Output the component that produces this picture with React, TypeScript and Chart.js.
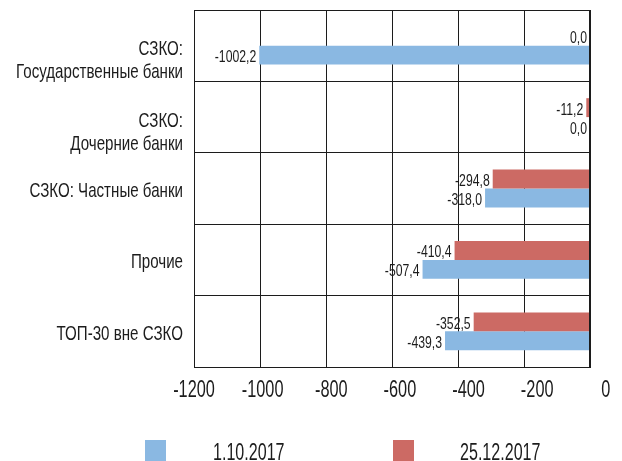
import React, { useEffect, useRef } from "react";
import { Chart, registerables } from "chart.js";

Chart.register(...registerables);

const categories: string[][] = [
  ["СЗКО:", "Государственные банки"],
  ["СЗКО:", "Дочерние банки"],
  ["СЗКО: Частные банки"],
  ["Прочие"],
  ["ТОП-30 вне СЗКО"],
];
const seriesDec = [0.0, -11.2, -294.8, -410.4, -352.5];
const seriesOct = [-1002.2, 0.0, -318.0, -507.4, -439.3];
const xTicks = [-1200, -1000, -800, -600, -400, -200, 0];
const labelDec = "25.12.2017";
const labelOct = "1.10.2017";
const colorDec = "#CC6A64";
const colorOct = "#8AB8E2";

const FONT = "'Liberation Sans', Arial, sans-serif";
const INK = "#1c1c1c";

const fmt = (v: number) => v.toFixed(1).replace(".", ",");

function narrowText(ctx: CanvasRenderingContext2D, text: string, x: number, y: number, size: number, sx: number, align: CanvasTextAlign) {
  ctx.save();
  ctx.font = `${size}px ${FONT}`;
  ctx.fillStyle = INK;
  ctx.textAlign = align;
  ctx.textBaseline = "alphabetic";
  ctx.translate(x, y);
  ctx.scale(sx, 1);
  ctx.fillText(text, 0, 0);
  ctx.restore();
}

const textPlugin = {
  id: "narrowTexts",
  afterDraw(chart: any) {
    const ctx: CanvasRenderingContext2D = chart.ctx;
    const xs = chart.scales.x;
    const ys = chart.scales.y;
    const a = chart.chartArea;
    // frame
    ctx.save();
    ctx.strokeStyle = INK;
    ctx.lineWidth = 1;
    ctx.strokeRect(Math.round(a.left) + 0.5, Math.round(a.top) + 0.5, Math.round(a.right - a.left) - 1, Math.round(a.bottom - a.top));
    ctx.restore();
    // category labels
    categories.forEach((lines, i) => {
      const cy = ys.getPixelForValue(i);
      lines.forEach((line, li) => {
        const base = cy + (lines.length > 1 ? 9.5 : 8.5) + li * 23;
        narrowText(ctx, line, a.left - 11, base, 21, 0.72, "right");
      });
    });
    // x tick labels (label row is slightly wider than the plot, as in the original)
    const x0 = xs.getPixelForValue(xTicks[0]);
    xTicks.forEach((t) => {
      const px = xs.getPixelForValue(t);
      narrowText(ctx, String(t), px + (px - x0) * 0.04, 397, 24, 0.68, "center");
    });
    // data labels
    chart.data.datasets.forEach((ds: any, di: number) => {
      const meta = chart.getDatasetMeta(di);
      meta.data.forEach((el: any, i: number) => {
        narrowText(ctx, fmt(ds.data[i]), el.x - 3, el.y + 7, 17, 0.72, "right");
      });
    });
    // legend
    const items = [
      { label: labelOct, color: colorOct, box: 145, text: 213 },
      { label: labelDec, color: colorDec, box: 393, text: 460 },
    ];
    items.forEach((it) => {
      ctx.fillStyle = it.color;
      ctx.fillRect(it.box, 440, 21, 21);
      narrowText(ctx, it.label, it.text, 460, 24, 0.67, "left");
    });
  },
};

export default function App() {
  const ref = useRef<HTMLCanvasElement>(null);
  useEffect(() => {
    if (!ref.current) return;
    const chart = new Chart(ref.current, {
      type: "bar",
      data: {
        labels: categories.map((c) => c.join(" ")),
        datasets: [
          { label: labelDec, data: seriesDec, backgroundColor: colorDec, categoryPercentage: 0.53, barPercentage: 1 },
          { label: labelOct, data: seriesOct, backgroundColor: colorOct, categoryPercentage: 0.53, barPercentage: 1 },
        ],
      },
      options: {
        indexAxis: "y",
        animation: false,
        responsive: false,
        maintainAspectRatio: false,
        layout: { padding: { top: 10, right: 32, left: 0, bottom: 0 } },
        plugins: { legend: { display: false }, tooltip: { enabled: false } },
        scales: {
          x: {
            min: -1200,
            max: 0,
            ticks: { stepSize: 200, display: false },
            grid: { color: INK, lineWidth: 1, drawTicks: false },
            border: { color: INK, width: 1 },
            afterFit: (s: any) => { s.height = 94; },
          },
          y: {
            ticks: { display: false },
            grid: { color: INK, lineWidth: 1, drawTicks: false, offset: true },
            border: { color: INK, width: 1 },
            afterFit: (s: any) => { s.width = 194; },
          },
        },
      },
      plugins: [textPlugin],
    });
    return () => chart.destroy();
  }, []);

  return (
    <div style={{ position: "fixed", left: 0, top: 0, width: 622, height: 461, background: "#fff", overflow: "hidden" }}>
      <canvas ref={ref} width={622} height={461} style={{ display: "block" }} />
    </div>
  );
}
